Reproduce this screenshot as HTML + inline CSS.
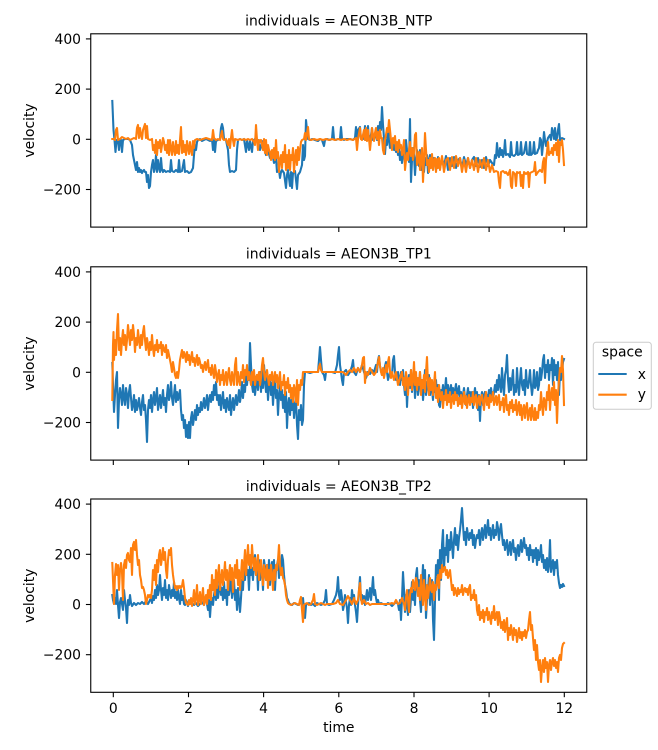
<!DOCTYPE html>
<html><head><meta charset="utf-8"><style>
html,body{margin:0;padding:0;background:#fff;}
svg{display:block;}
text{font-family:"DejaVu Sans","Liberation Sans",sans-serif;font-size:13.9px;fill:#000;}
.b{fill:none;stroke:#1f77b4;stroke-width:2.08;stroke-linejoin:round;stroke-linecap:square;}
.o{fill:none;stroke:#ff7f0e;stroke-width:2.08;stroke-linejoin:round;stroke-linecap:square;}
.sp{fill:none;stroke:#000;stroke-width:1.1;}
.tk{stroke:#000;stroke-width:1.1;}
</style></head><body>
<svg width="658" height="750" viewBox="0 0 658 750" xmlns="http://www.w3.org/2000/svg">
<rect width="658" height="750" fill="#fff"/>
<defs>
<clipPath id="c1"><rect x="90.75" y="33.8" width="496" height="193.3"/></clipPath>
<clipPath id="c2"><rect x="90.75" y="266.8" width="496" height="193.3"/></clipPath>
<clipPath id="c3"><rect x="90.75" y="499" width="496" height="193.3"/></clipPath>
</defs>

<!-- Titles -->
<text x="338.8" y="25.7" text-anchor="middle">individuals = AEON3B_NTP</text>
<text x="338.8" y="258.6" text-anchor="middle">individuals = AEON3B_TP1</text>
<text x="338.8" y="490.8" text-anchor="middle">individuals = AEON3B_TP2</text>

<!-- Panel 1 series -->
<g clip-path="url(#c1)">
<polyline class="b" points="112.3,101 113.5,130 114.5,140 115.5,152 116.5,140 118,141 119,150 120,139 121,140 122,152 123,140 125,139 128,139 130,140 132,145 133,155 134,160 135,165 136,170 137,162 138,172 139,168 140,172 141,170 142,173 143,171 144,170 145,172 146,172 147,182 148,175 149,188 150,186 151,172 152,165 153,160 154,172 155,168 156,155 157,172 158,160 159,168 160,172 161,158 162,170 163,172 164,170 166,172 168,171 170,172 171,160 172,171 174,172 176,170 178,172 179,160 180,172 182,171 184,160 185,172 187,171 189,173 191,172 193,168 194,155 195,145 196,150 197,142 198,140 200,139 202,141 204,140 206,139 208,140 210,141 212,139 213,150 214,140 215,152 216,141 218,140 220,139 221,128 222,124 223,128 224,139 226,140 228,150 229,165 230,172 232,171 234,172 236,170 237,150 238,140 240,139 242,140 244,139 246,152 247,140 249,150 250,141 252,152 253,141 255,139 258,140 260,150 262,141 264,148 266,155 268,150 270,158 272,152 274,163 276,158 277,172 279,170 280,178 281,172 282,170 284,173 286,188 287,175 288,170 290,186 291,172 292,188 293,173 295,171 297,189 298,175 300,172 302,165 303,145 304,160 305,156 306,120 307,130 308,139 310,140 312,139 315,140 318,141 320,139 322,140 324,146 325,140 327,139 330,140 332,139 333,127 334,139 336,140 338,139 340,139 341,127 342,139 344,140 346,139 350,139 353,140 355,138 356,127 357,139 358,130 360,127 361,139 362,138 364,139 365,126 366,140 367,138 368,126 369,140 371,135 372,128 373,140 374,138 376,135 377,140 378,126 379,141 380,122 381,130 382,107 383,125 384,138 385,154 386,140 387,145 388,128 389,140 390,148 391,142 392,145 393,143 394,150 395,145 396,152 397,144 398,155 399,148 400,160 401,152 402,163 403,155 404,150 405,160 406,140 407,150 408,156 409,162 410,119 411,182 412,160 413,148 414,155 415,175 416,160 417,150 418,158 419,166 420,150 421,170 422,154 423,162 424,172 425,158 426,165 427,155 428,173 429,160 430,155 432,165 434,158 436,170 438,157 440,168 442,158 444,166 446,156 448,170 450,158 452,166 454,157 456,168 458,160 460,158 462,168 464,157 466,165 468,158 470,168 472,160 474,157 476,166 478,158 480,167 482,160 484,168 486,157 488,166 490,160 492,163 494,165 495,155 496,158 497,143 498,155 499,157 500,148 501,155 502,150 503,157 504,153 505,140 506,155 508,154 510,157 511,142 512,155 514,156 516,154 517,142 518,155 520,154 521,142 522,155 524,153 526,142 527,154 529,155 530,142 531,155 533,153 534,142 535,154 537,153 538,150 539,148 540,138 541,140 542,155 543,145 544,132 545,140 546,146 548,138 550,135 551,140 552,128 553,132 554,139 555,128 556,140 557,138 558,130 559,124 560,140 562,138 564,139"/>
<polyline class="o" points="112.3,139 114,139 115,140 116,130 117,128 118,140 120,139 122,137 124,138 126,139 128,138 130,140 132,139 134,138 136,139 137,128 138,125 139,138 140,128 141,135 142,139 143,130 144,127 145,124 146,138 147,126 148,139 150,140 152,139 153,150 154,145 155,153 156,140 157,155 158,142 159,148 160,140 161,152 162,145 163,138 164,142 165,150 166,145 167,153 168,140 169,155 170,140 171,148 172,155 173,142 174,150 175,155 176,141 177,153 178,145 179,154 180,140 181,127 182,153 183,141 184,152 185,145 186,155 187,141 188,148 189,154 190,142 191,150 192,155 193,141 194,148 195,140 197,139 200,140 203,139 206,138 209,139 212,140 213,130 214,138 216,140 218,139 220,140 222,131 223,139 224,140 226,139 228,145 229,139 230,148 231,138 232,130 233,140 234,146 235,139 238,140 240,139 242,140 244,139 246,140 248,139 250,140 252,139 254,142 255,145 256,125 257,140 258,150 259,140 260,142 261,140 262,145 263,150 264,139 265,153 266,140 267,155 268,145 269,150 270,152 271,160 272,150 273,158 274,148 275,160 276,140 277,158 278,152 279,172 280,160 281,155 282,168 283,152 284,162 285,145 286,170 287,155 288,168 289,150 290,170 291,155 292,160 293,148 294,172 295,158 296,150 297,165 298,147 299,160 300,150 301,142 302,140 304,139 305,133 306,140 308,127 309,139 311,140 314,139 317,140 320,139 323,140 326,139 329,140 332,139 335,140 338,139 341,140 344,139 347,140 350,139 353,140 356,138 357,150 358,139 360,128 361,139 362,140 364,130 365,140 366,128 367,141 368,130 369,139 370,150 371,140 372,128 373,135 374,141 375,133 376,128 377,139 378,132 379,145 380,130 381,138 382,138 383,150 384,154 385,140 386,135 387,128 388,132 389,120 390,130 391,140 392,150 393,138 394,143 395,136 396,150 397,142 398,152 399,140 400,148 401,145 402,155 403,150 404,140 405,170 406,160 407,153 408,160 409,150 410,142 411,156 412,148 413,160 414,152 415,135 416,133 417,165 418,160 419,152 420,170 421,158 422,148 423,182 424,160 425,133 426,150 427,165 428,160 429,172 430,158 431,168 432,154 433,170 434,160 435,158 436,172 437,159 438,168 439,158 440,170 442,156 444,172 446,160 448,158 450,170 452,157 454,168 456,156 458,166 460,158 462,172 464,160 466,172 468,158 470,168 472,160 474,170 476,158 478,172 480,160 482,168 484,158 486,170 488,160 490,172 492,165 494,172 496,171 498,172 499,182 500,188 501,172 503,171 505,173 506,172 508,175 510,170 511,186 512,188 513,172 515,174 516,186 517,172 518,173 520,172 521,186 522,175 523,188 524,172 526,174 528,172 529,187 530,173 532,172 534,171 535,162 536,175 538,172 540,170 542,172 543,162 544,158 545,183 546,160 547,152 548,142 549,155 550,152 551,153 552,148 553,155 554,145 555,150 556,143 557,155 558,140 559,162 560,142 561,145 562,140 563,150 564,165"/>
</g>

<!-- Panel 2 series -->
<g clip-path="url(#c2)">
<polyline class="b" points="112.3,363 113,385 114,412 115,395 116,380 117,372 118,428 119,400 120,388 121,395 122,405 123,385 124,398 125,405 126,388 127,395 128,408 129,392 130,385 131,398 132,410 133,405 134,395 135,412 136,400 137,410 138,405 139,398 140,408 141,415 142,402 143,395 144,410 145,405 146,420 147,442 148,410 149,400 150,408 151,395 152,412 153,400 154,392 155,405 156,398 157,388 158,410 159,402 160,395 161,408 162,400 163,390 164,405 165,398 166,412 167,395 168,385 169,400 170,395 171,382 172,398 173,405 174,395 175,385 176,402 177,392 178,400 179,395 180,390 181,410 182,420 183,415 184,428 185,420 186,437 187,425 188,438 189,422 190,438 191,418 192,412 193,425 194,418 195,410 196,420 197,405 198,415 199,408 200,412 201,402 202,410 203,405 204,398 205,408 206,403 207,395 208,410 209,400 210,395 211,402 212,392 213,400 214,385 215,395 216,382 217,400 218,395 219,405 220,395 221,410 222,400 223,392 224,408 225,400 226,412 227,398 228,405 229,410 230,395 231,415 232,405 233,398 234,410 235,402 236,395 237,405 238,400 239,390 240,402 241,395 242,382 243,398 244,385 245,392 246,375 247,385 248,372 249,380 250,343 251,365 252,385 253,392 254,380 255,395 256,385 257,375 258,390 259,378 260,372 261,392 262,370 263,388 264,365 265,380 266,392 267,378 268,400 269,385 270,375 271,395 272,383 273,405 274,388 275,380 276,398 277,390 278,415 279,395 280,385 281,400 282,390 283,408 284,395 285,412 286,392 287,428 288,405 289,398 290,415 291,400 292,410 293,395 294,418 295,405 296,400 297,425 298,439 299,410 300,420 301,405 302,425 303,420 304,385 305,372 307,372 310,373 313,372 316,372 318,372 319,360 320,347 321,360 322,372 324,375 325,380 326,372 329,372 332,372 335,373 337,365 338,355 339,347 340,365 341,372 342,380 343,385 344,372 346,370 348,375 350,372 352,366 353,360 354,372 356,375 358,368 360,372 362,365 364,372 366,378 368,372 370,374 372,370 374,372 376,365 377,372 378,360 379,356 380,366 382,375 384,370 386,362 387,372 388,380 390,372 392,376 393,360 394,356 395,372 396,380 398,372 400,385 401,372 402,380 403,370 404,385 405,395 406,375 407,407 408,385 409,375 410,388 411,370 412,392 413,380 414,372 415,398 416,385 417,378 418,395 419,386 420,372 421,392 422,380 423,400 424,388 425,370 426,395 427,382 428,388 429,375 430,395 431,383 432,390 433,400 434,385 435,392 436,380 437,398 438,385 439,405 440,407 441,390 442,395 443,385 444,400 445,390 446,378 447,395 448,385 449,400 450,390 451,385 452,395 453,388 454,402 455,390 456,384 457,398 458,390 459,386 460,400 461,392 462,404 463,395 464,388 465,398 466,405 467,395 468,388 469,400 470,392 471,398 472,392 473,408 474,396 475,388 476,400 477,392 478,410 479,395 480,421 481,398 482,392 483,405 484,395 485,392 486,400 487,395 488,398 489,390 490,396 491,388 492,395 493,400 494,392 495,385 496,392 497,380 498,390 499,375 500,385 501,392 502,368 503,385 504,395 505,375 506,370 507,355 508,380 509,392 510,378 511,390 512,380 513,370 514,395 515,385 516,392 517,368 518,385 519,395 520,380 521,368 522,385 523,390 524,380 525,395 526,370 527,385 528,388 529,380 530,370 531,385 532,395 533,386 534,370 535,388 536,385 537,372 538,390 539,385 540,368 541,380 542,372 543,360 544,355 545,378 546,365 547,372 548,360 549,380 550,365 551,370 552,358 553,385 554,360 555,375 556,365 557,380 558,362 559,395 560,372 561,380 562,372 563,362 564,359"/>
<polyline class="o" points="112.3,400 113,345 113.5,332 114,360 115,340 116,355 117,330 118,314 119,350 120,338 121,355 122,340 123,330 124,345 125,335 126,350 127,340 128,325 129,335 130,345 131,330 132,340 133,325 134,335 135,352 136,338 137,345 138,330 139,340 140,348 141,335 142,345 143,332 144,326 145,340 146,350 147,338 148,345 149,355 150,342 151,350 152,335 153,348 154,356 155,345 156,350 157,340 158,352 159,345 160,348 161,342 162,355 163,345 164,350 165,352 166,345 167,358 168,350 169,355 170,360 171,365 172,372 173,362 174,368 175,375 176,378 177,372 178,378 179,370 180,360 181,355 182,350 183,358 184,352 185,355 186,362 187,352 188,360 189,355 190,365 191,358 192,352 193,362 194,358 195,366 196,360 197,355 198,365 199,358 200,362 201,368 202,365 203,372 204,366 205,362 206,370 207,365 208,360 209,372 210,368 211,375 212,365 213,372 214,378 215,365 216,372 217,382 218,375 219,370 220,385 221,375 222,380 223,370 224,385 225,378 226,372 227,385 228,375 229,368 230,380 231,385 232,372 233,378 234,385 235,365 236,358 237,385 238,372 239,380 240,385 241,372 242,378 243,365 244,382 245,370 246,375 247,365 248,380 249,372 250,378 251,385 252,372 253,380 254,370 255,385 256,378 257,375 258,380 259,372 260,385 261,378 262,365 263,358 264,372 265,380 266,375 267,370 268,378 269,385 270,375 271,380 272,372 273,385 274,378 275,372 276,382 277,375 278,388 279,380 280,372 281,390 282,382 283,385 284,375 285,395 286,382 287,388 288,378 289,392 290,385 291,398 292,388 293,402 294,385 295,390 296,402 297,380 298,405 299,385 300,390 301,380 302,385 303,372 304,372 306,372 309,372 312,372 315,372 318,372 319,367 320,364 321,370 322,372 325,372 328,372 331,372 334,372 337,372 340,372 343,372 346,375 348,372 350,370 352,372 354,368 356,372 358,368 360,372 362,365 363,358 364,357 365,383 366,372 368,375 370,368 372,372 374,375 376,372 378,362 379,357 380,366 381,372 382,375 383,368 384,378 385,372 386,365 387,372 388,362 389,357 390,372 391,378 392,372 394,380 396,372 398,385 400,378 402,372 403,385 404,378 405,390 406,372 407,380 408,395 409,378 410,385 411,370 412,390 413,380 414,362 415,385 416,372 417,390 418,378 419,385 420,372 421,395 422,380 423,388 424,375 425,392 426,372 427,357 428,385 429,395 430,378 431,390 432,380 433,395 434,385 435,372 436,398 437,388 438,402 439,385 440,395 441,400 442,392 443,408 444,396 445,400 446,390 447,405 448,395 449,402 450,392 451,408 452,398 453,395 454,404 455,392 456,400 457,395 458,406 459,398 460,404 461,395 462,408 463,400 464,392 465,404 466,396 467,408 468,400 469,395 470,405 471,398 472,402 473,392 474,405 475,398 476,395 477,408 478,400 479,396 480,405 481,398 482,395 483,402 484,410 485,398 486,392 487,405 488,398 489,408 490,395 491,402 492,398 493,392 494,405 495,400 496,396 497,405 498,398 499,395 500,410 501,402 502,405 503,398 504,412 505,400 506,395 507,410 508,405 509,415 510,402 511,408 512,400 513,412 514,405 515,410 516,400 517,415 518,408 519,402 520,415 521,405 522,420 523,410 524,405 525,418 526,408 527,403 528,420 529,412 530,408 531,420 532,405 533,415 534,420 535,408 536,420 537,412 538,418 539,405 540,410 541,392 542,405 543,415 544,398 545,402 546,410 547,392 548,400 549,385 550,410 551,395 552,388 553,400 554,382 555,405 556,390 557,423 558,395 559,380 560,368 561,372 562,356 563,370 564,405"/>
</g>

<!-- Panel 3 series -->
<g clip-path="url(#c3)">
<polyline class="b" points="112.3,595 113,600 114,604 115,598 116,604 117,590 118,605 119,618 120,602 121,598 122,604 123,610 124,590 125,600 126,608 127,623 128,600 129,605 130,595 131,603 132,606 134,603 136,605 138,603 140,604 142,602 144,604 146,601 148,604 150,600 151,598 152,603 153,596 154,600 155,590 156,598 157,585 158,595 159,590 160,575 161,590 162,600 163,588 164,595 165,580 166,598 167,590 168,600 169,585 170,592 171,598 172,590 173,596 174,582 175,598 176,592 177,600 178,590 179,598 180,604 181,590 182,600 183,596 184,604 185,605 186,600 187,603 188,606 189,602 190,604 192,603 194,605 196,603 198,606 200,604 202,602 204,605 206,596 207,604 208,610 209,600 210,617 211,602 212,598 213,605 214,595 215,588 216,600 217,585 218,598 219,590 220,575 221,595 222,588 223,600 224,582 225,598 226,590 227,605 228,580 229,595 230,588 231,575 232,598 233,590 234,580 235,600 236,590 237,610 238,588 239,600 240,612 241,598 242,580 243,590 244,565 245,580 246,560 247,575 248,570 249,590 250,565 251,575 252,568 253,580 254,560 255,555 256,575 257,568 258,590 259,560 260,580 261,565 262,572 263,590 264,560 265,568 266,580 267,565 268,578 269,560 270,585 271,568 272,562 273,575 274,560 275,590 276,570 277,565 278,560 279,578 280,565 281,570 282,555 283,560 284,575 285,585 286,590 287,598 288,600 289,603 290,604 292,605 294,603 296,604 298,605 300,603 302,604 303,598 304,610 305,618 306,605 307,604 309,603 311,605 313,604 315,606 317,603 319,604 321,605 323,604 325,600 326,590 327,604 329,605 332,604 334,600 336,595 337,590 338,577 339,595 340,600 341,590 342,598 343,610 344,605 345,595 346,602 347,608 348,623 349,605 350,598 351,605 352,590 353,600 354,595 355,605 356,612 357,622 358,605 359,590 360,577 361,600 362,595 363,603 364,596 365,605 366,598 367,590 368,600 369,595 370,588 371,600 372,590 373,577 374,595 375,590 376,598 377,603 378,600 379,604 381,603 383,604 386,605 388,603 390,604 392,606 394,604 396,602 398,604 399,610 400,600 401,620 402,598 403,572 404,590 405,612 406,595 407,605 408,615 409,590 410,612 411,598 412,582 413,600 414,590 415,605 416,575 417,568 418,590 419,580 420,600 421,612 422,585 423,565 424,598 425,570 426,618 427,600 428,590 429,575 430,605 431,590 432,580 433,620 434,640 435,600 436,565 437,575 438,560 439,600 440,550 441,580 442,545 443,530 444,570 445,548 446,555 447,535 448,562 449,540 450,550 451,532 452,545 453,558 454,540 455,528 456,545 457,535 458,550 459,538 460,530 461,520 462,508 463,525 464,540 465,532 466,545 467,528 468,535 469,540 470,533 471,538 472,530 473,545 474,535 475,548 476,540 477,535 478,538 479,530 480,545 481,535 482,528 483,540 484,532 485,525 486,538 487,530 488,520 489,535 490,528 491,540 492,532 493,525 494,538 495,530 496,535 497,522 498,528 499,540 500,530 501,524 502,535 503,545 504,540 505,550 506,545 507,540 508,555 509,548 510,542 511,555 512,545 513,540 514,552 515,548 516,560 517,550 518,545 519,556 520,548 521,540 522,552 523,545 524,538 525,548 526,545 527,555 528,548 529,560 530,545 531,555 532,550 533,562 534,550 535,558 536,548 537,565 538,550 539,560 540,555 541,545 542,562 543,555 544,568 545,560 546,570 547,558 548,572 549,565 550,540 551,572 552,565 553,560 554,575 555,562 556,568 557,560 558,575 559,583 560,588 561,585 562,587 563,584 564,586"/>
<polyline class="o" points="112.3,563 113,580 114,604 115,575 116,564 117,575 118,565 119,590 120,570 121,563 122,572 123,600 124,565 125,560 126,568 127,555 128,553 129,560 130,562 131,548 132,575 133,545 134,542 135,550 136,540 137,555 138,565 139,560 140,575 141,580 142,588 143,587 144,590 145,595 146,604 147,600 148,595 149,597 150,595 151,598 152,590 153,570 154,580 155,565 156,585 157,560 158,572 159,555 160,550 161,565 162,558 163,548 164,560 165,552 166,570 167,578 168,560 169,550 170,555 171,548 172,565 173,575 174,582 175,588 176,586 177,590 178,586 179,588 180,586 181,588 182,586 183,580 184,588 185,598 186,603 187,604 188,605 189,600 190,604 191,598 192,606 193,600 194,590 195,604 196,598 197,585 198,605 199,600 200,592 201,604 202,598 203,588 204,605 205,600 206,595 207,604 208,590 209,598 210,585 211,600 212,575 213,590 214,580 215,595 216,570 217,588 218,575 219,565 220,590 221,580 222,570 223,585 224,575 225,562 226,580 227,570 228,590 229,575 230,565 231,580 232,568 233,592 234,575 235,565 236,578 237,560 238,585 239,570 240,590 241,575 242,560 243,580 244,565 245,550 246,575 247,560 248,545 249,565 250,555 251,568 252,545 253,560 254,570 255,558 256,575 257,565 258,555 259,580 260,568 261,560 262,575 263,585 264,565 265,572 266,580 267,565 268,588 269,570 270,580 271,565 272,575 273,590 274,570 275,580 276,565 277,570 278,560 279,545 280,565 281,575 282,568 283,578 284,580 285,585 286,595 287,600 288,603 289,604 291,605 293,604 295,603 297,604 299,605 300,600 301,597 302,610 303,622 304,605 305,604 307,603 309,605 311,604 313,600 314,594 315,604 317,605 319,604 321,603 323,604 325,605 327,604 330,604 333,604 336,603 338,600 340,604 343,605 346,600 348,596 350,600 352,604 354,598 356,604 358,600 359,590 360,583 361,598 362,604 364,600 366,604 368,603 370,605 372,604 374,604 377,604 380,604 383,604 386,604 389,604 392,603 394,604 396,600 398,604 400,603 402,598 404,604 405,610 406,598 407,590 408,600 409,612 410,595 411,588 412,592 413,580 414,585 415,590 416,578 417,582 418,596 419,588 420,600 421,575 422,590 423,605 424,580 425,596 426,610 427,585 428,598 429,590 430,578 431,590 432,592 433,582 434,600 435,585 436,590 437,580 438,575 439,588 440,570 441,578 442,565 443,572 444,568 445,567 446,575 447,570 448,578 449,574 450,570 451,580 452,590 453,585 454,595 455,588 456,592 457,596 458,588 459,594 460,590 461,592 462,585 463,595 464,590 465,588 466,592 467,589 468,595 469,588 470,585 471,600 472,595 473,598 474,590 475,600 476,595 477,610 478,615 479,605 480,620 481,612 482,618 483,610 484,622 485,612 486,615 487,608 488,620 489,612 490,618 491,624 492,612 493,618 494,606 495,620 496,615 497,612 498,625 499,612 500,618 501,628 502,622 503,630 504,620 505,632 506,625 507,618 508,640 509,628 510,635 511,625 512,632 513,640 514,628 515,635 516,630 517,642 518,635 519,628 520,638 521,632 522,640 523,632 524,636 525,630 526,638 527,632 528,630 529,620 530,612 531,630 532,625 533,638 534,650 535,640 536,660 537,645 538,662 539,670 540,660 541,682 542,668 543,660 544,672 545,658 546,668 547,662 548,682 549,665 550,660 551,670 552,662 553,658 554,666 555,660 556,668 557,662 558,672 559,658 560,655 561,660 562,648 563,644 564,643"/>
</g>

<!-- Spines -->
<rect class="sp" x="90.75" y="33.8" width="496" height="193.3"/>
<rect class="sp" x="90.75" y="266.8" width="496" height="193.3"/>
<rect class="sp" x="90.75" y="499" width="496" height="193.3"/>

<!-- Y ticks panel 1 -->
<g class="tk">
<line x1="85.9" x2="90.75" y1="38.9" y2="38.9"/><line x1="85.9" x2="90.75" y1="89.1" y2="89.1"/><line x1="85.9" x2="90.75" y1="139.3" y2="139.3"/><line x1="85.9" x2="90.75" y1="189.5" y2="189.5"/>
<line x1="85.9" x2="90.75" y1="271.9" y2="271.9"/><line x1="85.9" x2="90.75" y1="322.1" y2="322.1"/><line x1="85.9" x2="90.75" y1="372.3" y2="372.3"/><line x1="85.9" x2="90.75" y1="422.5" y2="422.5"/>
<line x1="85.9" x2="90.75" y1="504.1" y2="504.1"/><line x1="85.9" x2="90.75" y1="554.3" y2="554.3"/><line x1="85.9" x2="90.75" y1="604.5" y2="604.5"/><line x1="85.9" x2="90.75" y1="654.7" y2="654.7"/>
</g>
<!-- X ticks -->
<g class="tk">
<line x1="113.3" x2="113.3" y1="227.1" y2="232"/><line x1="188.5" x2="188.5" y1="227.1" y2="232"/><line x1="263.6" x2="263.6" y1="227.1" y2="232"/><line x1="338.8" x2="338.8" y1="227.1" y2="232"/><line x1="414" x2="414" y1="227.1" y2="232"/><line x1="489.1" x2="489.1" y1="227.1" y2="232"/><line x1="564.3" x2="564.3" y1="227.1" y2="232"/>
<line x1="113.3" x2="113.3" y1="460.1" y2="465"/><line x1="188.5" x2="188.5" y1="460.1" y2="465"/><line x1="263.6" x2="263.6" y1="460.1" y2="465"/><line x1="338.8" x2="338.8" y1="460.1" y2="465"/><line x1="414" x2="414" y1="460.1" y2="465"/><line x1="489.1" x2="489.1" y1="460.1" y2="465"/><line x1="564.3" x2="564.3" y1="460.1" y2="465"/>
<line x1="113.3" x2="113.3" y1="692.3" y2="697.2"/><line x1="188.5" x2="188.5" y1="692.3" y2="697.2"/><line x1="263.6" x2="263.6" y1="692.3" y2="697.2"/><line x1="338.8" x2="338.8" y1="692.3" y2="697.2"/><line x1="414" x2="414" y1="692.3" y2="697.2"/><line x1="489.1" x2="489.1" y1="692.3" y2="697.2"/><line x1="564.3" x2="564.3" y1="692.3" y2="697.2"/>
</g>

<!-- Y tick labels -->
<g text-anchor="end">
<text x="81" y="43.9">400</text><text x="81" y="94.1">200</text><text x="81" y="144.3">0</text><text x="81" y="194.5">−200</text>
<text x="81" y="276.9">400</text><text x="81" y="327.1">200</text><text x="81" y="377.3">0</text><text x="81" y="427.5">−200</text>
<text x="81" y="509.1">400</text><text x="81" y="559.3">200</text><text x="81" y="609.5">0</text><text x="81" y="659.7">−200</text>
</g>
<!-- X tick labels -->
<g text-anchor="middle">
<text x="113.3" y="713">0</text><text x="188.5" y="713">2</text><text x="263.6" y="713">4</text><text x="338.8" y="713">6</text><text x="414" y="713">8</text><text x="489.1" y="713">10</text><text x="564.3" y="713">12</text>
</g>

<!-- Axis labels -->
<text transform="translate(34,130.5) rotate(-90)" text-anchor="middle">velocity</text>
<text transform="translate(34,363.5) rotate(-90)" text-anchor="middle">velocity</text>
<text transform="translate(34,595.7) rotate(-90)" text-anchor="middle">velocity</text>
<text x="338.8" y="732" text-anchor="middle">time</text>

<!-- Legend -->
<rect x="593.3" y="342.3" width="58" height="67" rx="2.8" ry="2.8" fill="#fff" fill-opacity="0.8" stroke="#cccccc" stroke-width="1"/>
<text x="622.3" y="356.5" text-anchor="middle">space</text>
<line x1="598.3" x2="626.7" y1="374" y2="374" stroke="#1f77b4" stroke-width="2.08"/>
<line x1="598.3" x2="626.7" y1="394.7" y2="394.7" stroke="#ff7f0e" stroke-width="2.08"/>
<text x="637.8" y="379">x</text>
<text x="637.8" y="399">y</text>
</svg>
</body></html>
